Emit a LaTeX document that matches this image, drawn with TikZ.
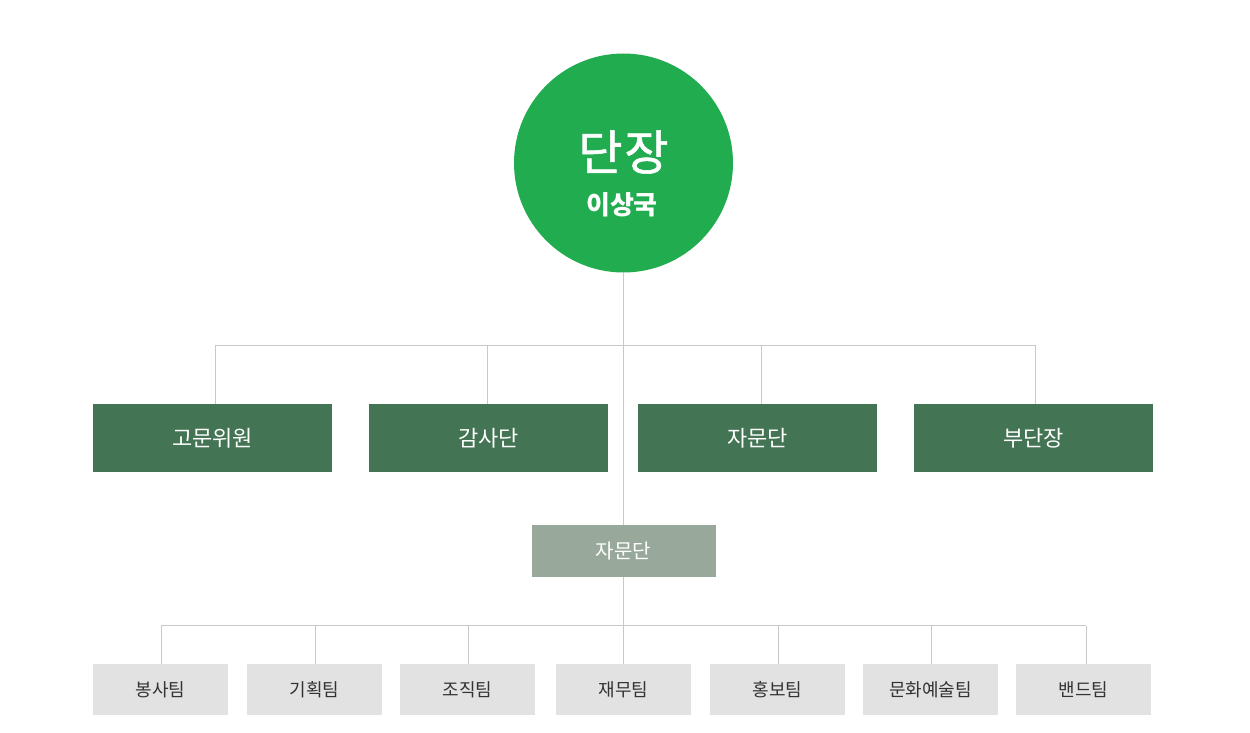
\documentclass[tikz,border=0pt]{standalone}
\usepackage{fontspec}
\newfontfamily\kr{Noto Sans CJK KR}
\newfontfamily\krmed[FakeBold=1.2]{Noto Sans CJK KR}
\definecolor{chief}{HTML}{21AC50}
\definecolor{lvone}{HTML}{437453}
\definecolor{lvtwo}{HTML}{98A89B}
\definecolor{lvthree}{HTML}{E2E2E2}
\definecolor{linec}{HTML}{C8C8C8}
\definecolor{darktext}{HTML}{333333}
\begin{document}
\begin{tikzpicture}[x=1pt,y=-1pt,
  conn/.style={draw=linec,line width=1pt},
  topbox/.style={fill=lvone,text=white,minimum width=239pt,minimum height=68pt,inner sep=0pt,font=\kr\fontsize{22}{26}\selectfont},
  midbox/.style={fill=lvtwo,text=white,minimum width=184pt,minimum height=52pt,inner sep=0pt,font=\kr\fontsize{20}{23}\selectfont},
  teambox/.style={fill=lvthree,text=darktext,minimum width=135pt,minimum height=51pt,inner sep=0pt,font=\kr\fontsize{18}{21}\selectfont}]
\useasboundingbox (0,0) rectangle (1250,733);
\node[circle,fill=chief,minimum size=219pt,inner sep=0pt] (head) at (623.5,163) {};
\node[text=white,font=\krmed\fontsize{48}{52}\selectfont] (t1) at (623.5,152) {단\hspace{2pt}장};
\node[text=white,font=\kr\bfseries\fontsize{26}{30}\selectfont] (t2) at (622,205) {이상국};

\node[topbox] (a) at (212.5,438) {고문위원};
\node[topbox] (b) at (488.5,438) {감사단};
\node[topbox] (c) at (757.5,438) {자문단};
\node[topbox] (d) at (1033.5,438) {부단장};

\node[midbox] (m) at (623.5,551) {자문단};

\node[teambox] (s1) at (160.5,689.5) {봉사팀};
\node[teambox] (s2) at (314.5,689.5) {기획팀};
\node[teambox] (s3) at (467.5,689.5) {조직팀};
\node[teambox] (s4) at (623.5,689.5) {재무팀};
\node[teambox] (s5) at (777.5,689.5) {홍보팀};
\node[teambox] (s6) at (930.5,689.5) {문화예술팀};
\node[teambox] (s7) at (1083.5,689.5) {밴드팀};

\coordinate (j1) at (623.5,345);
\coordinate (j2) at (623.5,625.5);
\begin{scope}[on background layer/.try]
\draw[conn] (head.south) -- (m.north);
\draw[conn] (215.5,345) -- (1035.5,345);
\draw[conn] (215.5,345) -- (215.5,404);
\draw[conn] (487.5,345) -- (487.5,404);
\draw[conn] (761.5,345) -- (761.5,404);
\draw[conn] (1035.5,345) -- (1035.5,404);
\draw[conn] (m.south) -- (j2);
\draw[conn] (161,625.5) -- (1086,625.5);
\foreach \x/\n in {161/s1,315/s2,468/s3,623.5/s4,778/s5,931/s6,1086/s7}
  \draw[conn] (\x,625.5) -- (\x,664);
\end{scope}
\end{tikzpicture}
\end{document}
